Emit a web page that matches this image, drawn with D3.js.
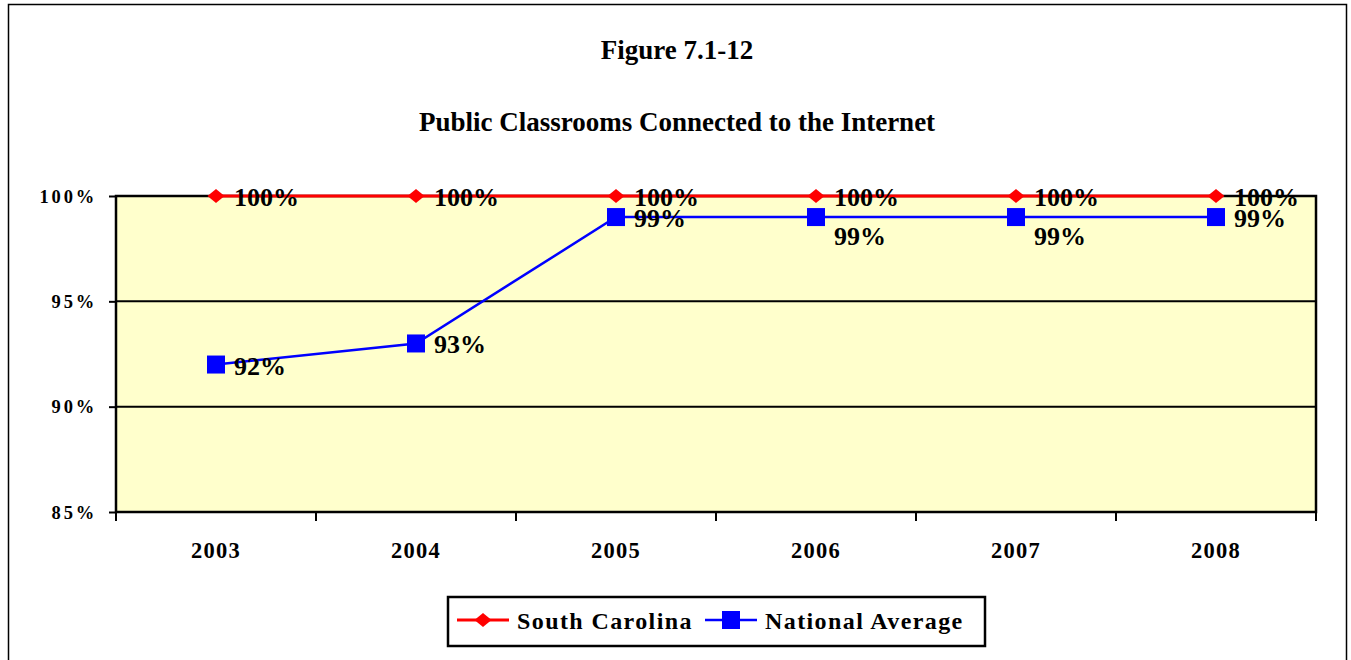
<!DOCTYPE html>
<html>
<head>
<meta charset="utf-8">
<script src="https://cdn.jsdelivr.net/npm/d3@7"></script>
<style>
  html, body { margin: 0; padding: 0; background: #fff; }
  svg { display: block; }
  text { font-family: "Liberation Serif", "Times New Roman", serif; font-weight: bold; fill: #000; }
</style>
</head>
<body>
<svg id="chart" width="1351" height="660"></svg>
<script>
// Chart data
const years = ["2003", "2004", "2005", "2006", "2007", "2008"];
const southCarolina = [100, 100, 100, 100, 100, 100];
const nationalAverage = [92, 93, 99, 99, 99, 99];
const yTicks = [85, 90, 95, 100];
// Label placement for the national series: right of point or below it
const naLabelBelow = [false, false, false, true, true, false];

const svg = d3.select("#chart");

// Outer frame
svg.append("rect")
  .attr("x", 8.5).attr("y", 4.5)
  .attr("width", 1338).attr("height", 670)
  .attr("fill", "#fff").attr("stroke", "#000").attr("stroke-width", 1.5);

const plot = { left: 116, right: 1316, top: 196, bottom: 512 };

const x = d3.scaleBand().domain(years).range([plot.left, plot.right]).padding(0);
const y = d3.scaleLinear().domain([85, 100]).range([plot.bottom, plot.top]);
const cx = d => x(d) + x.bandwidth() / 2;

// Titles
svg.append("text").attr("x", 677).attr("y", 59)
  .attr("text-anchor", "middle").attr("font-size", 27)
  .text("Figure 7.1-12");
svg.append("text").attr("x", 677).attr("y", 131)
  .attr("text-anchor", "middle").attr("font-size", 27)
  .text("Public Classrooms Connected to the Internet");

// Plot background
svg.append("rect")
  .attr("x", plot.left).attr("y", plot.top)
  .attr("width", plot.right - plot.left).attr("height", plot.bottom - plot.top)
  .attr("fill", "#FFFFCC");

// Horizontal gridlines
svg.append("g").selectAll("line")
  .data(yTicks.filter(t => t > 85 && t < 100))
  .join("line")
  .attr("x1", plot.left).attr("x2", plot.right)
  .attr("y1", d => y(d)).attr("y2", d => y(d))
  .attr("stroke", "#000").attr("stroke-width", 2);

// Plot border
svg.append("rect")
  .attr("x", plot.left).attr("y", plot.top)
  .attr("width", plot.right - plot.left).attr("height", plot.bottom - plot.top)
  .attr("fill", "none").attr("stroke", "#000").attr("stroke-width", 2.5);

// Y axis
const yAxis = d3.axisLeft(y).tickValues(yTicks).tickSize(7).tickPadding(12)
  .tickFormat(d => d + "%");
const gy = svg.append("g").attr("transform", `translate(${plot.left},0)`).call(yAxis);
gy.select(".domain").remove();
gy.selectAll(".tick line").attr("stroke", "#000").attr("stroke-width", 2);
gy.selectAll(".tick text").attr("font-size", 18.5)
  .attr("letter-spacing", 2.8).attr("dy", "0.34em");

// X axis: ticks between categories
const xTickPos = years.map(d => x(d)).concat([plot.right]);
svg.append("g").selectAll("line")
  .data(xTickPos).join("line")
  .attr("x1", d => d).attr("x2", d => d)
  .attr("y1", plot.bottom).attr("y2", plot.bottom + 9)
  .attr("stroke", "#000").attr("stroke-width", 2);
svg.append("g").selectAll("text")
  .data(years).join("text")
  .attr("x", d => cx(d)).attr("y", 558)
  .attr("text-anchor", "middle").attr("font-size", 22.5)
  .attr("letter-spacing", 1.2)
  .text(d => d);

// Lines
const lineGen = d3.line().x((d, i) => cx(years[i])).y(d => y(d));
svg.append("path").datum(nationalAverage)
  .attr("d", lineGen).attr("fill", "none")
  .attr("stroke", "#0000FF").attr("stroke-width", 2.5);
svg.append("path").datum(southCarolina)
  .attr("d", lineGen).attr("fill", "none")
  .attr("stroke", "#FF0000").attr("stroke-width", 3);

// Markers
const diamondPath = "M-8.5,0L0,-7L8.5,0L0,7Z";
svg.append("g").selectAll("path")
  .data(southCarolina).join("path")
  .attr("d", diamondPath)
  .attr("transform", (d, i) => `translate(${cx(years[i])},${y(d)})`)
  .attr("fill", "#FF0000");
svg.append("g").selectAll("rect")
  .data(nationalAverage).join("rect")
  .attr("x", (d, i) => cx(years[i]) - 9).attr("y", d => y(d) - 9)
  .attr("width", 18).attr("height", 18)
  .attr("fill", "#0000FF");

// Data labels
svg.append("g").selectAll("text")
  .data(nationalAverage).join("text")
  .attr("x", (d, i) => cx(years[i]) + 18)
  .attr("y", (d, i) => y(d) + (naLabelBelow[i] ? 28 : 10))
  .attr("font-size", 26)
  .text(d => d + "%");
svg.append("g").selectAll("text")
  .data(southCarolina).join("text")
  .attr("x", (d, i) => cx(years[i]) + 18)
  .attr("y", d => y(d) + 10)
  .attr("font-size", 26)
  .text(d => d + "%");

// Legend
const lg = svg.append("g");
lg.append("rect").attr("x", 448).attr("y", 597).attr("width", 537).attr("height", 49)
  .attr("fill", "#fff").attr("stroke", "#000").attr("stroke-width", 2.5);
const legendItems = [
  { name: "South Carolina", color: "#FF0000", shape: "diamond", x0: 457, tx: 517 },
  { name: "National Average", color: "#0000FF", shape: "square", x0: 705, tx: 765 }
];
legendItems.forEach(it => {
  const ly = 620;
  lg.append("line").attr("x1", it.x0).attr("x2", it.x0 + 52)
    .attr("y1", ly).attr("y2", ly)
    .attr("stroke", it.color).attr("stroke-width", it.shape === "diamond" ? 3 : 2.5);
  if (it.shape === "diamond") {
    lg.append("path").attr("d", diamondPath)
      .attr("transform", `translate(${it.x0 + 26},${ly})`)
      .attr("fill", it.color);
  } else {
    lg.append("rect").attr("x", it.x0 + 17).attr("y", ly - 9)
      .attr("width", 18).attr("height", 18).attr("fill", it.color);
  }
  lg.append("text").attr("x", it.tx).attr("y", ly + 9)
    .attr("font-size", 24).attr("letter-spacing", 1.4)
    .text(it.name);
});
</script>
</body>
</html>
